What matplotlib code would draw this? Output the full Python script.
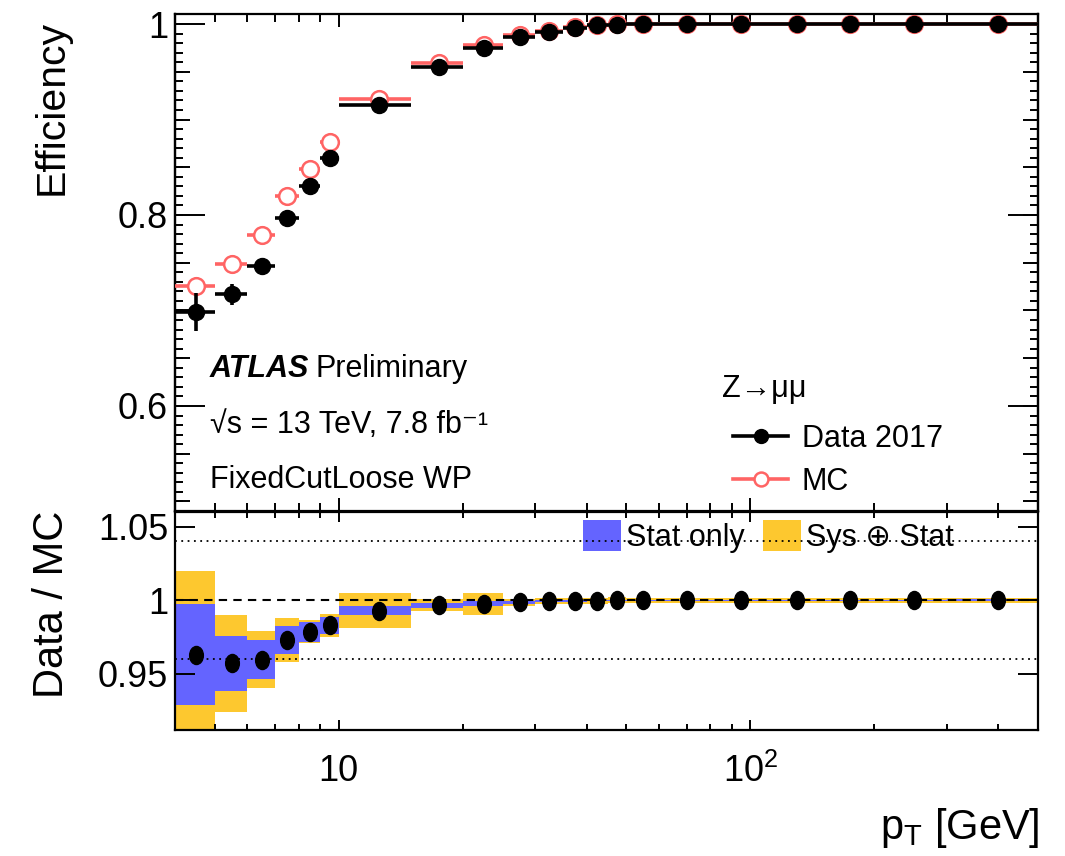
import numpy as np
import matplotlib
matplotlib.use("Agg")
import matplotlib.pyplot as plt
from matplotlib import font_manager
from matplotlib.lines import Line2D
from matplotlib.patches import Patch
from matplotlib.path import Path
from matplotlib.ticker import (FixedLocator, FixedFormatter, MultipleLocator,
                               LogLocator, NullFormatter, FuncFormatter)

# ---------------- data ----------------
bin_edges = [4, 5, 6, 7, 8, 9, 10, 15, 20, 25, 30, 35, 40, 45, 50, 60, 80, 110, 150, 200, 300, 500]
eff_data = [0.698, 0.717, 0.747, 0.797, 0.830, 0.860, 0.915, 0.955, 0.975, 0.986, 0.992,
            0.996, 0.999, 0.9995, 0.9997, 0.9997, 0.9997, 0.9997, 0.9997, 0.9997, 0.9997]
err_data = [0.020, 0.011, 0.006, 0.004, 0.003, 0.003, 0.002, 0.0015, 0.001, 0.001, 0.001,
            0.001, 0.001, 0.0005, 0.0005, 0.0005, 0.0005, 0.0005, 0.0005, 0.0005, 0.0005]
eff_mc = [0.726, 0.749, 0.779, 0.820, 0.848, 0.876, 0.922, 0.959, 0.978, 0.988, 0.993,
          0.9965, 0.9993, 0.9997, 0.9998, 0.9998, 0.9998, 0.9998, 0.9998, 0.9998, 0.9998]
err_mc = [0.002, 0.002, 0.002, 0.002, 0.002, 0.002, 0.001, 0.001, 0.001, 0.001, 0.001,
          0.0005, 0.0005, 0.0005, 0.0005, 0.0005, 0.0005, 0.0005, 0.0005, 0.0005, 0.0005]
ratio = [0.9628, 0.9571, 0.9595, 0.9728, 0.9785, 0.9828, 0.9929, 0.9966, 0.9977, 0.9986, 0.9993,
         0.9995, 0.9997, 0.9998, 0.9999, 0.9999, 0.9999, 0.9999, 0.9999, 0.9999, 0.9999]
ratio_stat = [0.0345, 0.0187, 0.0135, 0.0095, 0.0068, 0.0057, 0.0030, 0.0017, 0.0017, 0.0010, 0.0008,
              0.0006, 0.0005, 0.0005, 0.0005, 0.0005, 0.0005, 0.0005, 0.0005, 0.0005, 0.0008]
ratio_tot = [0.0567, 0.0331, 0.0196, 0.0150, 0.0077, 0.0080, 0.0119, 0.0040, 0.0075, 0.0025, 0.0022,
             0.0020, 0.0020, 0.0020, 0.0018, 0.0018, 0.0018, 0.0018, 0.0018, 0.0018, 0.0018]
ratio_ref_dotted = [0.96, 1.04]
ratio_ref_dashed = 1.0
xtick_vals = [10, 100]
xtick_labels = ["10", r"$\mathregular{10^{2}}$"]

# ---------------- style ----------------
names = {f.name for f in font_manager.fontManager.ttflist}
REG = "Liberation Sans" if "Liberation Sans" in names else "DejaVu Sans"
NAR = "Liberation Sans Narrow" if "Liberation Sans Narrow" in names else REG
plt.rcParams["font.family"] = [REG, "DejaVu Sans"]
plt.rcParams["mathtext.fontset"] = "custom"
plt.rcParams["mathtext.rm"] = REG
plt.rcParams["mathtext.it"] = REG + ":italic"

blue = "#6464ff"
yellow = "#fdc82f"
mc_col = "#ff6464"

W, H = 1065, 856
fig = plt.figure(figsize=(W / 100, H / 100), dpi=100)

def fx(px):
    return px / W

def fy(py):
    return 1 - py / H

L, R = 175, 1038
ax = fig.add_axes([fx(L), fy(511), (R - L) / W, (511 - 14) / H])
ax2 = fig.add_axes([fx(L), fy(730), (R - L) / W, (730 - 512) / H], sharex=ax)

edges = np.array(bin_edges, dtype=float)
lo, hi = edges[:-1], edges[1:]
xc = 0.5 * (lo + hi)
xerr = [xc - lo, hi - xc]

# ---------------- top panel ----------------
ax.errorbar(xc, eff_mc, xerr=xerr, yerr=err_mc, fmt="o", color=mc_col, mfc="white",
            mec=mc_col, ms=12, mew=1.8, elinewidth=2.6, capsize=0, zorder=3)
ax.errorbar(xc, eff_data, xerr=xerr, yerr=err_data, fmt="o", color="black",
            ms=11.5, elinewidth=2.6, capsize=0, zorder=4)

ax.set_xscale("log")
ax.set_xlim(4, 500)
ax.set_ylim(0.49, 1.0105)
ax.yaxis.set_major_locator(MultipleLocator(0.2))
ax.yaxis.set_minor_locator(MultipleLocator(0.01))
ax.yaxis.set_major_formatter(FuncFormatter(lambda v, p: f"{v:g}"))

for a in (ax, ax2):
    a.xaxis.set_major_locator(FixedLocator(xtick_vals))
    a.xaxis.set_major_formatter(FixedFormatter(xtick_labels))
    a.xaxis.set_minor_locator(LogLocator(base=10, subs=np.arange(2, 10)))
    a.xaxis.set_minor_formatter(NullFormatter())
    for s in a.spines.values():
        s.set_linewidth(1.6)

ax.tick_params(axis="both", which="both", direction="in", top=True, right=True,
               width=1.4, labelbottom=False)
ax.tick_params(axis="y", which="major", length=21.5, pad=5, labelsize=26)
ax.tick_params(axis="y", which="minor", length=5.8)
ax.tick_params(axis="x", which="major", length=9.4)
ax.tick_params(axis="x", which="minor", length=5.8)
for lab in ax.get_yticklabels():
    lab.set_fontfamily(NAR)

# medium ticks every 0.05
for side in ("left", "right"):
    sec = ax.secondary_yaxis(side, functions=(lambda y: y, lambda y: y))
    sec.yaxis.set_major_locator(MultipleLocator(0.05))
    sec.yaxis.set_minor_locator(MultipleLocator(1.0))
    sec.tick_params(axis="y", which="major", direction="in", length=10.8, width=1.4,
                    labelleft=False, labelright=False)
    sec.spines[side].set_linewidth(1.6)

# texts
def axx(px):
    return (px - L) / (R - L)

def axy(py):
    return (511 - py) / (511 - 14)

ax.text(axx(210), axy(377), "ATLAS", fontsize=22, fontweight="bold", fontstyle="italic",
        transform=ax.transAxes, va="baseline", ha="left")
ax.text(axx(315), axy(377), "Preliminary", fontsize=22, transform=ax.transAxes,
        va="baseline", ha="left")
ax.text(axx(210), axy(433), "√s = 13 TeV, 7.8 fb⁻¹", fontsize=22,
        transform=ax.transAxes, va="baseline", ha="left", family=[REG, "DejaVu Sans"])
ax.text(axx(210), axy(488), "FixedCutLoose WP", fontsize=22, transform=ax.transAxes,
        va="baseline", ha="left")
ax.text(axx(722), axy(397), "Z→μμ", fontsize=22, transform=ax.transAxes,
        va="baseline", ha="left", family=[REG, "DejaVu Sans"])

h_data = Line2D([], [], color="black", lw=2.6, marker="o", ms=10)
h_mc = Line2D([], [], color=mc_col, lw=2.6, marker="o", ms=10, mfc="white", mew=1.8)
leg = ax.legend([h_data, h_mc], ["Data 2017", "MC"], loc="upper left",
                bbox_to_anchor=(axx(733), axy(424)), bbox_transform=ax.transAxes,
                frameon=False, fontsize=22, handlelength=1.8, handletextpad=0.45,
                labelspacing=0.42, borderpad=0, borderaxespad=0)

# ---------------- bottom panel ----------------
r = np.array(ratio)
st = np.array(ratio_stat)
tt = np.array(ratio_tot)
widths = hi - lo
ax2.bar(lo, 2 * tt, bottom=r - tt, width=widths, align="edge", color=yellow,
        linewidth=0, zorder=1, label="Sys ⊕ Stat")
ax2.bar(lo, 2 * st, bottom=r - st, width=widths, align="edge", color=blue,
        linewidth=0, zorder=1.2, label="Stat only")
for yv in ratio_ref_dotted:
    ax2.axhline(yv, color="black", ls=(0, (1, 2.5)), lw=1.3, zorder=2.5)
ax2.axhline(ratio_ref_dashed, color="black", ls=(0, (4, 3)), lw=1.5, zorder=2)

ell = Path.unit_circle()
ell = Path(ell.vertices * np.array([0.76, 1.0]), ell.codes)
ax2.plot(xc, r, ls="none", marker=ell, ms=13, color="black", zorder=4)

ax2.set_ylim(0.9116, 1.06)
ax2.yaxis.set_major_locator(FixedLocator([0.95, 1.0, 1.05]))
ax2.yaxis.set_major_formatter(FuncFormatter(lambda v, p: f"{v:g}"))
ax2.tick_params(axis="both", which="both", direction="in", top=True, right=True, width=1.4)
ax2.tick_params(axis="y", which="major", length=14.5, pad=5, labelsize=26)
ax2.tick_params(axis="x", which="major", length=7.5, pad=17, labelsize=26)
ax2.tick_params(axis="x", which="minor", length=4.5)
for lab in ax2.get_yticklabels() + ax2.get_xticklabels():
    lab.set_fontfamily(NAR)

h_stat = Patch(facecolor=blue, edgecolor="none")
h_tot = Patch(facecolor=yellow, edgecolor="none")
leg2 = ax2.legend([h_stat, h_tot], ["Stat only", "Sys ⊕ Stat"], ncol=2, loc="upper left",
                  bbox_to_anchor=((583 - L) / (R - L), (730 - 520) / (730 - 512)),
                  bbox_transform=ax2.transAxes, frameon=False, fontsize=22,
                  handlelength=1.25, handleheight=1.2, handletextpad=0.15,
                  columnspacing=0.6, borderpad=0, borderaxespad=0,
                  prop={"family": [REG, "DejaVu Sans"], "size": 22})
leg2.set_zorder(2)

# axis titles
fig.text(fx(52), fy(20), "Efficiency", rotation=90, ha="center", va="top", fontsize=29.5)
fig.text(fx(52), fy(604), "Data / MC", rotation=90, ha="center", va="center", fontsize=30)
fig.text(fx(1040), fy(806), r"p$_{\mathregular{T}}$ [GeV]", ha="right", va="top",
         fontsize=30, family=NAR)

fig.savefig("out.png", dpi=100)
